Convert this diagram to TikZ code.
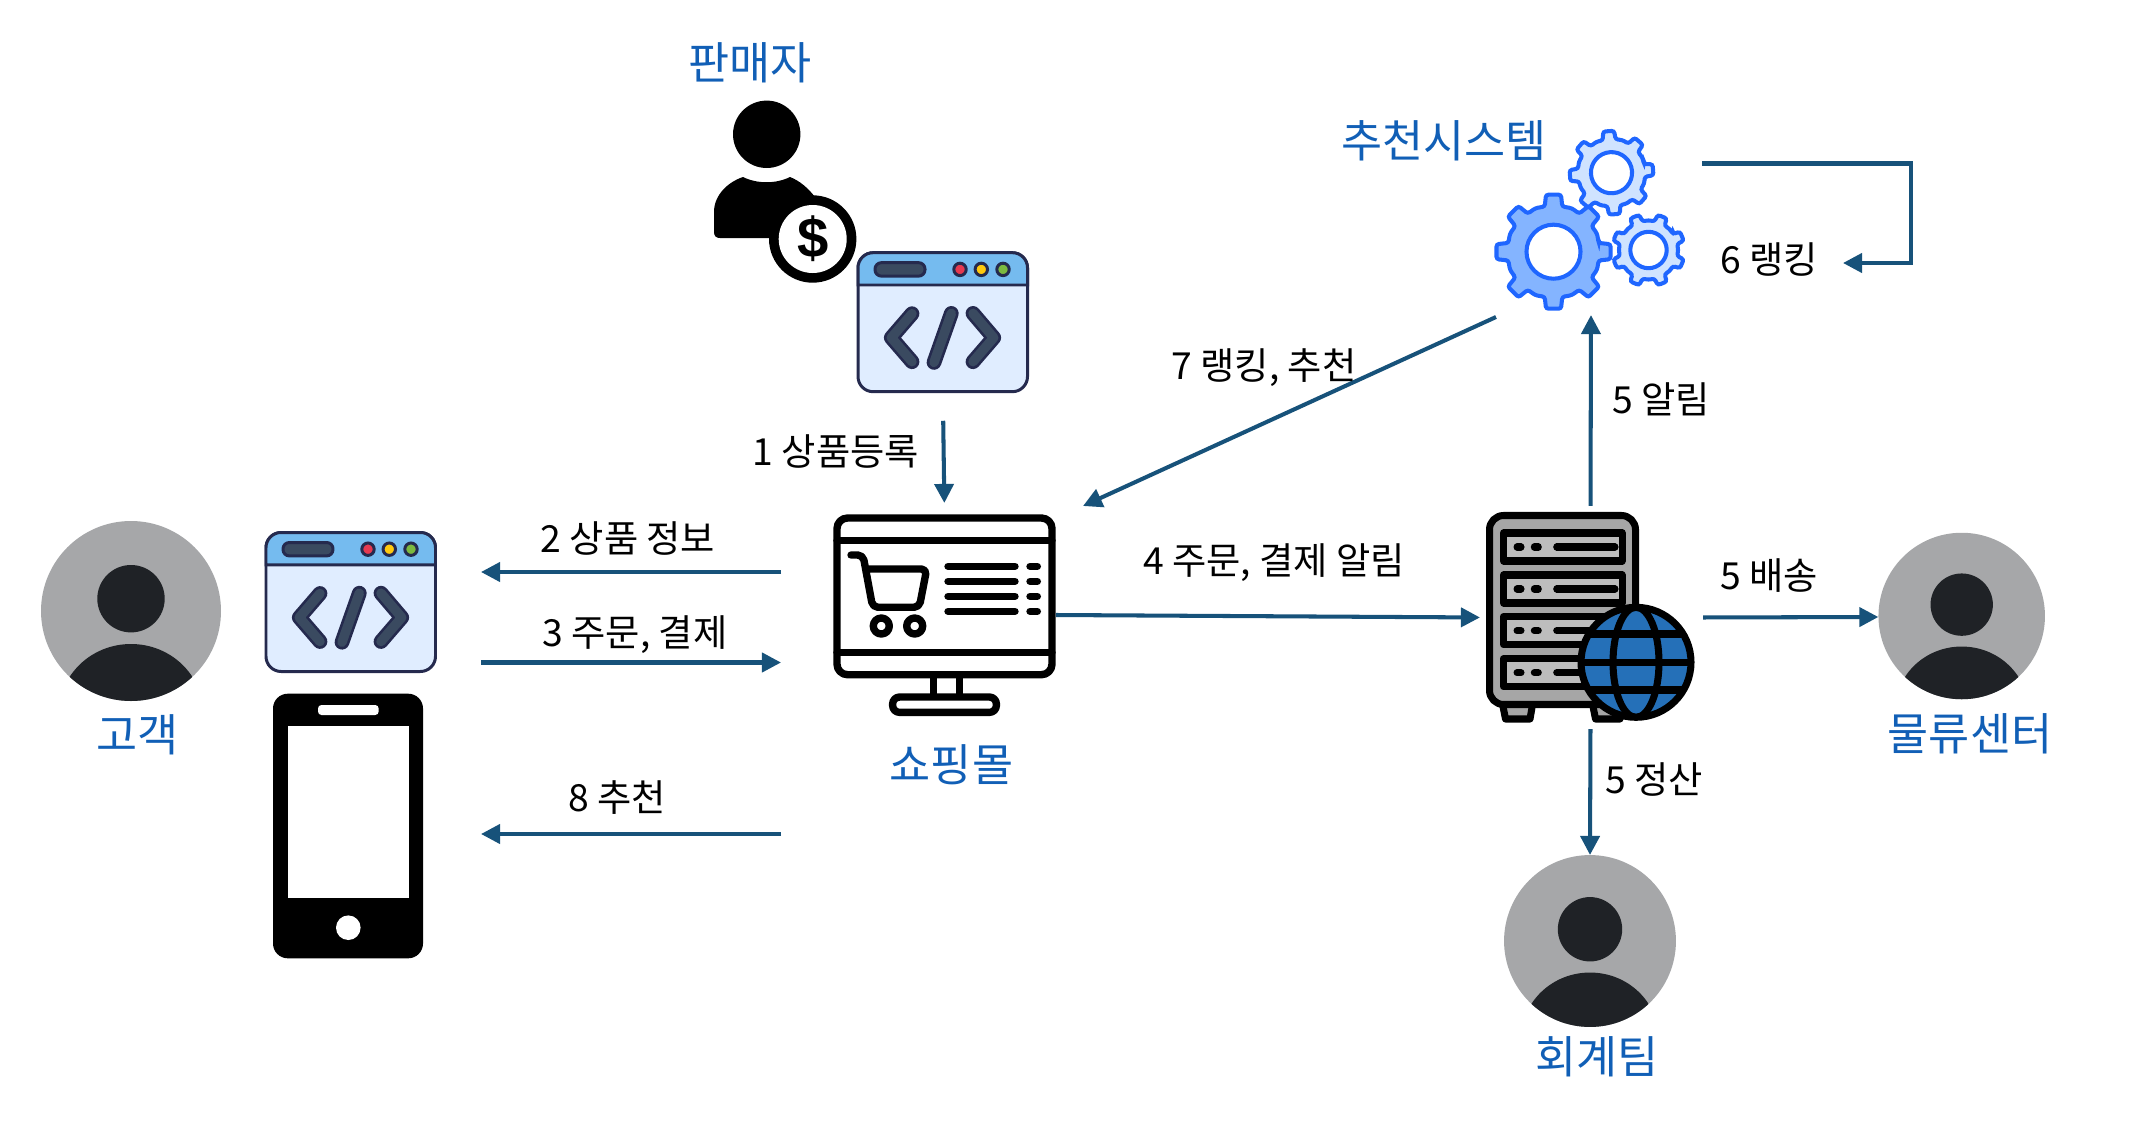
\documentclass[tikz,border=0pt]{standalone}
\usepackage{fontspec}
\setmainfont{Noto Sans CJK KR}
\newfontfamily\glyphfont{Liberation Sans}
\usetikzlibrary{arrows.meta}
\definecolor{flow}{HTML}{17527A}
\definecolor{actor}{HTML}{115FB6}
\definecolor{ink}{HTML}{000000}
\definecolor{avatarbg}{HTML}{A6A7A9}
\definecolor{avatarfg}{HTML}{1F2226}
\definecolor{webline}{HTML}{252A4E}
\definecolor{webhead}{HTML}{75BBEF}
\definecolor{webbody}{HTML}{E0EDFF}
\definecolor{webcode}{HTML}{3A4A60}
\definecolor{dotred}{HTML}{E63950}
\definecolor{dotyellow}{HTML}{FFC90E}
\definecolor{dotgreen}{HTML}{7CB940}
\definecolor{rack}{HTML}{A6A6A6}
\definecolor{rackslot}{HTML}{BDBDBD}
\definecolor{globe}{HTML}{2570B8}
\definecolor{gearline}{HTML}{1F66FF}
\definecolor{gearstrong}{HTML}{84B4FF}
\definecolor{gearsoft}{HTML}{CFE3FF}
\tikzset{
  every node/.style={text=ink},
  flowlabel/.style={font=\fontsize{10.6}{12}\selectfont,text=ink,inner sep=0pt},
  actorlabel/.style={font=\fontsize{12.7}{14}\selectfont,text=actor,inner sep=0pt},
  flowarrow/.style={draw=flow,line width=1.15pt,-{Triangle[length=.19cm,width=.19cm]}},
  iconbox/.style={draw=none,inner sep=0pt,outer sep=0pt},
  monitorline/.style={draw=black,line width=2.1pt,line cap=round,line join=round},
  rackline/.style={draw=black,line width=2pt,line join=round},
  pics/webwindow/.style={code={
    \filldraw[fill=webbody,draw=webline,line width=.85pt,rounded corners=4.3pt] (0,0) rectangle (169.5,139);
    \filldraw[fill=webhead,draw=webline,line width=.85pt] (0,32.3) [rounded corners=4.3pt] -- (0,0) -- (169.5,0) [sharp corners] -- (169.5,32.3) -- cycle;
    \filldraw[fill=webcode,draw=webline,line width=.85pt,rounded corners=1.8pt] (17,10) rectangle (67,23.4);
    \filldraw[fill=dotred,draw=webline,line width=.85pt] (102,16.7) circle (6.2);
    \filldraw[fill=dotyellow,draw=webline,line width=.85pt] (123.3,16.7) circle (6.2);
    \filldraw[fill=dotgreen,draw=webline,line width=.85pt] (145,16.7) circle (6.2);
    \foreach \tone/\wide in {webline/4.2pt,webcode/2.7pt} {
      \draw[\tone,line width=\wide,line cap=round,line join=round] (54,61) -- (33.3,85) -- (54,109);
      \draw[\tone,line width=\wide,line cap=round] (93.3,60.7) -- (76,109.7);
      \draw[\tone,line width=\wide,line cap=round,line join=round] (115,60.7) -- (135.7,85) -- (115,109);
    }
  }},
  pics/avatar/.style={code={
    \fill[avatarbg] (0,0) circle (90);
    \fill[avatarfg] (0,-12.3) circle (33.7);
    \begin{scope}
      \clip (0,0) circle (90);
      \fill[avatarfg] (0,102) ellipse [x radius=72,y radius=69];
    \end{scope}
  }},
  pics/gearwheel/.style n args={2}{code={
    \filldraw[draw=gearline,fill=#1,line width=1.15pt,rounded corners=.7pt] (-11:80)
      \foreach \a in {0,45,...,315} {
        -- (\a-11:80) -- (\a-7.5:100) -- (\a+7.5:100) -- (\a+11:80) -- (\a+22.5:82)
      } -- cycle;
    \filldraw[draw=gearline,fill=white,line width=1.15pt] (0,0) circle (#2);
  }}
}

\begin{document}
\begin{tikzpicture}[x=.01cm,y=-.01cm]
  \useasboundingbox (0,0) rectangle (2142,1124);

  % Customer, with the browser window and the phone.
  \pic at (131,611) {avatar};
  \node[actorlabel] (customer) at (138,735) {고객};
  \pic at (266,532.5) {webwindow};
  \fill[black,rounded corners=4.2pt] (273,693.7) rectangle (423,958.3);
  \fill[white] (287.7,726.3) rectangle (409.3,897.7);
  \fill[white,rounded corners=1pt] (318,705) rectangle (378.7,715);
  \fill[white] (348.3,927.7) circle (12.3);

  % Seller, with the dollar badge and the code window.
  \node[actorlabel] (seller) at (750,63) {판매자};
  \fill[black] (766.7,134.3) circle (33.7);
  \fill[black] (714,232) -- (714,212) .. controls (714,195) and (728,182) .. (743,177)
    .. controls (757,184) and (776,184) .. (790,177)
    .. controls (800,181) and (808,188) .. (815,197) -- (815,238) -- (720,238)
    .. controls (716,238) and (714,236) .. (714,232) -- cycle;
  \fill[black] (812.7,239) circle (43.7);
  \fill[white] (812.7,239) circle (34);
  \node[inner sep=0pt,text=black,font=\glyphfont\bfseries\fontsize{16}{16}\selectfont] (dollar) at (812.7,239) {\$};
  \node[iconbox,minimum width=1.695cm,minimum height=1.39cm] (sellerweb) at (942.8,322.2) {};
  \pic at (858,252.7) {webwindow};

  % Shopping mall monitor.
  \node[iconbox,minimum width=2.224cm,minimum height=2.02cm] (mall) at (944.5,615) {};
  \draw[monitorline,rounded corners=3pt] (837,518) rectangle (1052,674.7);
  \draw[monitorline] (837,540.7) -- (1052,540.7);
  \draw[monitorline] (837,652.3) -- (1052,652.3);
  \draw[monitorline] (933.3,678) -- (933.3,694);
  \draw[monitorline] (959.3,678) -- (959.3,694);
  \draw[monitorline,rounded corners=2pt] (892.6,697) rectangle (996.4,712.4);
  \draw[monitorline,rounded corners=1.5pt] (851,555) -- (863,555) -- (872.7,607.3) -- (919.3,607.3)
    -- (926.7,569) -- (866.5,569);
  \draw[monitorline] (881.3,626) circle (8);
  \draw[monitorline] (914.7,626) circle (8);
  \foreach \y in {566.3,581.3,596.3,611.3} {
    \draw[monitorline] (948,\y) -- (1015,\y);
    \draw[monitorline] (1030,\y) -- (1037.3,\y);
  }
  \node[actorlabel] (shop) at (951.5,765) {쇼핑몰};

  % Server rack and globe.
  \node[iconbox,minimum width=2.09cm,minimum height=2.09cm] (server) at (1590.5,617.5) {};
  \filldraw[rackline,fill=rack] (1501.7,700) -- (1505.5,719) -- (1530,719) -- (1533.3,700) -- cycle;
  \filldraw[rackline,fill=rack] (1591.7,700) -- (1595.5,719) -- (1620,719) -- (1623.3,700) -- cycle;
  \filldraw[rackline,fill=rack,rounded corners=4pt] (1489.5,515.5) rectangle (1635.5,704.5);
  \foreach \y in {547,589,630.7,672.7} {
    \filldraw[rackline,fill=rackslot] (1503.5,\y-14) rectangle (1622,\y+14);
    \draw[black,line width=2pt,line cap=round] (1517,\y) -- (1521,\y);
    \draw[black,line width=2pt,line cap=round] (1534.3,\y) -- (1538.3,\y);
    \draw[black,line width=2pt,line cap=round] (1556.7,\y) -- (1615,\y);
  }
  \filldraw[rackline,fill=globe] (1636,662.3) circle (55);
  \begin{scope}
    \clip (1636,662.3) circle (55);
    \draw[rackline] (1636,662.3) ellipse [x radius=23,y radius=55];
    \foreach \y in {634,662.3,690}
      \draw[rackline] (1575,\y) -- (1697,\y);
  \end{scope}

  % Recommendation gears.
  \node[actorlabel] (recommender) at (1444,141) {추천시스템};
  \node[iconbox,minimum width=1.9cm,minimum height=1.8cm] (gears) at (1591,220) {};
  \pic[scale=.42,rotate=4] at (1611.5,172.7) {gearwheel={gearsoft}{49}};
  \pic[scale=.364,rotate=22.5] at (1648.5,250) {gearwheel={gearsoft}{50}};
  \pic[scale=.575] at (1553.5,251.7) {gearwheel={gearstrong}{47}};

  % The two people served by the rack.
  \node[iconbox,circle,minimum size=1.666cm] (logistics) at (1961.7,617) {};
  \pic[scale=.925] at (1961.7,616) {avatar};
  \node[actorlabel] (logisticsname) at (1970,734) {물류센터};
  \node[iconbox,circle,minimum size=1.72cm] (accounting) at (1590,941) {};
  \pic[scale=.955] at (1590,941) {avatar};
  \node[actorlabel] (accountingname) at (1597,1057) {회계팀};

  % Free ends of the arrows that touch no icon.
  \coordinate (infofrom) at (781,572);
  \coordinate (infoto) at (481,572);
  \coordinate (orderfrom) at (481,662.5);
  \coordinate (orderto) at (781,662.5);
  \coordinate (suggestfrom) at (781,834);
  \coordinate (suggestto) at (481,834);
  \coordinate (pushfrom) at (1496,317);
  \coordinate (pushto) at (1083,506);
  \coordinate (rankfrom) at (1702,163.5);
  \coordinate (rankcorner) at (1911,263);
  \coordinate (rankto) at (1843,263);

  \draw[flowarrow,shorten <=.29cm,shorten >=.11cm] (sellerweb.south) -- (mall.north);
  \draw[flowarrow] (infofrom) -- (infoto);
  \draw[flowarrow] (orderfrom) -- (orderto);
  \draw[flowarrow] (suggestfrom) -- (suggestto);
  \draw[flowarrow,shorten >=.06cm] (mall.east) -- (server.west);
  \draw[flowarrow,shorten <=.07cm,shorten >=.05cm] (server.north) -- (gears.south);
  \draw[flowarrow,shorten <=.08cm] (server.east) -- (logistics.west);
  \draw[flowarrow,shorten <=.07cm] (server.south) -- (accounting.north);
  \draw[flowarrow] (pushfrom) -- (pushto);
  \draw[flowarrow] (rankfrom) -| (rankcorner) -- (rankto);

  % Step labels.
  \node[flowlabel] (stepone) at (836,451) {1 상품등록};
  \node[flowlabel] (steptwo) at (628,539) {2 상품 정보};
  \node[flowlabel] (stepthree) at (635,635) {3 주문, 결제};
  \node[flowlabel] (stepfour) at (1274,563) {4 주문, 결제 알림};
  \node[flowlabel] (stepnotify) at (1661,399) {5 알림};
  \node[flowlabel] (stepship) at (1769,576) {5 배송};
  \node[flowlabel] (stepsettle) at (1654,780) {5 정산};
  \node[flowlabel] (steprank) at (1769,260) {6 랭킹};
  \node[flowlabel] (steppush) at (1264,368) {7 랭킹, 추천};
  \node[flowlabel] (stepsuggest) at (617,798) {8 추천};
\end{tikzpicture}
\end{document}
